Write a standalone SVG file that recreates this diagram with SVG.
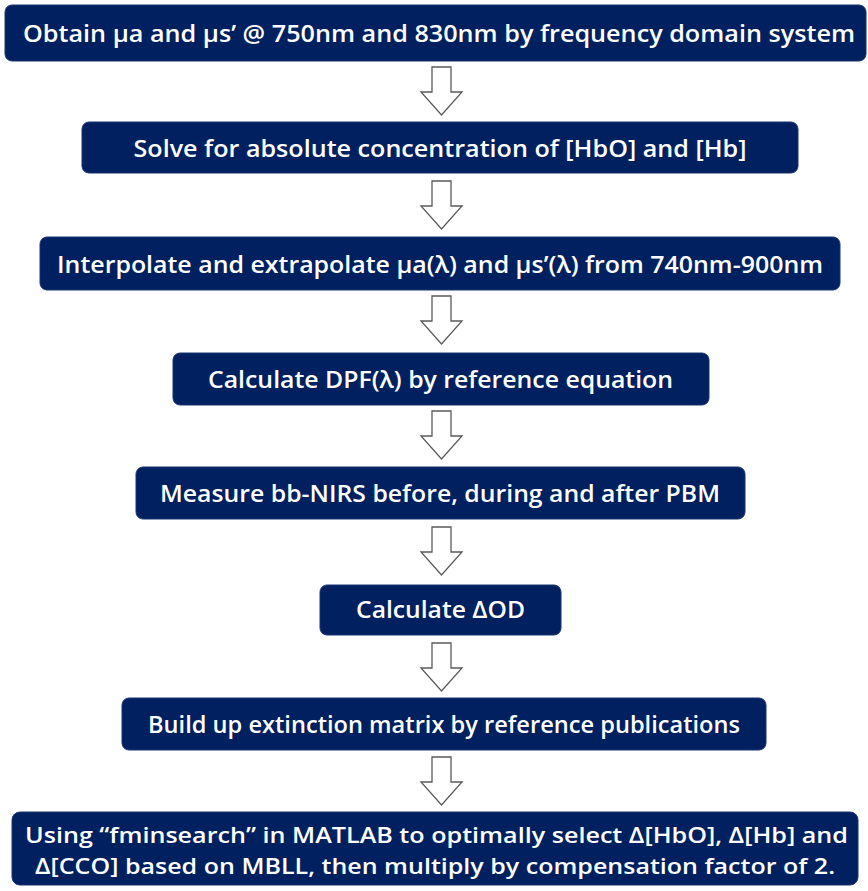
<svg xmlns="http://www.w3.org/2000/svg" width="868" height="891" viewBox="0 0 868 891">
<style>
.box{fill:#002060;stroke:#1a3570;stroke-width:1}
.t{font-family:"Open Sans","Liberation Sans",sans-serif;font-weight:600;font-size:24px;fill:#ffffff;text-anchor:middle}
.t2{font-size:22px}
.arr{fill:#ffffff;stroke:#595959;stroke-width:1.3;stroke-linejoin:miter}
</style>
<defs>
<path id="arrow" d="M-9.5,0 H9.5 V25 H20.5 L0,48 L-20.5,25 H-9.5 Z"/>
</defs>
<rect width="868" height="891" fill="#ffffff"/>
<g id="connectors">
<use href="#arrow" class="arr" x="441.5" y="67"/>
<use href="#arrow" class="arr" x="441.5" y="181"/>
<use href="#arrow" class="arr" x="441.5" y="296"/>
<use href="#arrow" class="arr" x="441.5" y="411"/>
<use href="#arrow" class="arr" x="441.5" y="527"/>
<use href="#arrow" class="arr" x="441.5" y="643"/>
<use href="#arrow" class="arr" x="441.5" y="757"/>
</g>
<g id="n1"><rect class="box" x="5" y="5" width="861" height="56" rx="7"/><text class="t" x="439" y="42" textLength="832" lengthAdjust="spacingAndGlyphs">Obtain μa and μs’ @ 750nm and 830nm by frequency domain  system</text></g>
<g id="n2"><rect class="box" x="82" y="122" width="716" height="51" rx="7"/><text class="t" x="440" y="157" textLength="613" lengthAdjust="spacingAndGlyphs">Solve for absolute concentration of [HbO] and [Hb]</text></g>
<g id="n3"><rect class="box" x="40" y="237" width="800" height="53" rx="7"/><text class="t" x="440" y="273" textLength="766" lengthAdjust="spacingAndGlyphs">Interpolate and extrapolate μa(λ) and μs’(λ) from 740nm-900nm</text></g>
<g id="n4"><rect class="box" x="173" y="353" width="536" height="52" rx="7"/><text class="t" x="440.5" y="388" textLength="465" lengthAdjust="spacingAndGlyphs">Calculate DPF(λ) by reference equation</text></g>
<g id="n5"><rect class="box" x="136" y="467" width="609" height="52" rx="7"/><text class="t" x="440" y="502" textLength="560" lengthAdjust="spacingAndGlyphs">Measure bb-NIRS before, during and after PBM</text></g>
<g id="n6"><rect class="box" x="320" y="585" width="241" height="50" rx="7"/><text class="t" x="440.5" y="618" textLength="169" lengthAdjust="spacingAndGlyphs">Calculate ΔOD</text></g>
<g id="n7"><rect class="box" x="122" y="698" width="644" height="52" rx="7"/><text class="t" x="444" y="733" textLength="592" lengthAdjust="spacingAndGlyphs">Build up extinction matrix by reference publications</text></g>
<g id="n8"><rect class="box" x="12" y="812" width="846" height="73" rx="8"/><text class="t t2" x="436.5" y="843" textLength="823" lengthAdjust="spacingAndGlyphs">Using “fminsearch” in MATLAB to optimally select Δ[HbO], Δ[Hb] and</text><text class="t t2" x="435" y="874" textLength="800" lengthAdjust="spacingAndGlyphs">Δ[CCO] based on MBLL, then multiply by compensation factor of 2.</text></g>
</svg>
